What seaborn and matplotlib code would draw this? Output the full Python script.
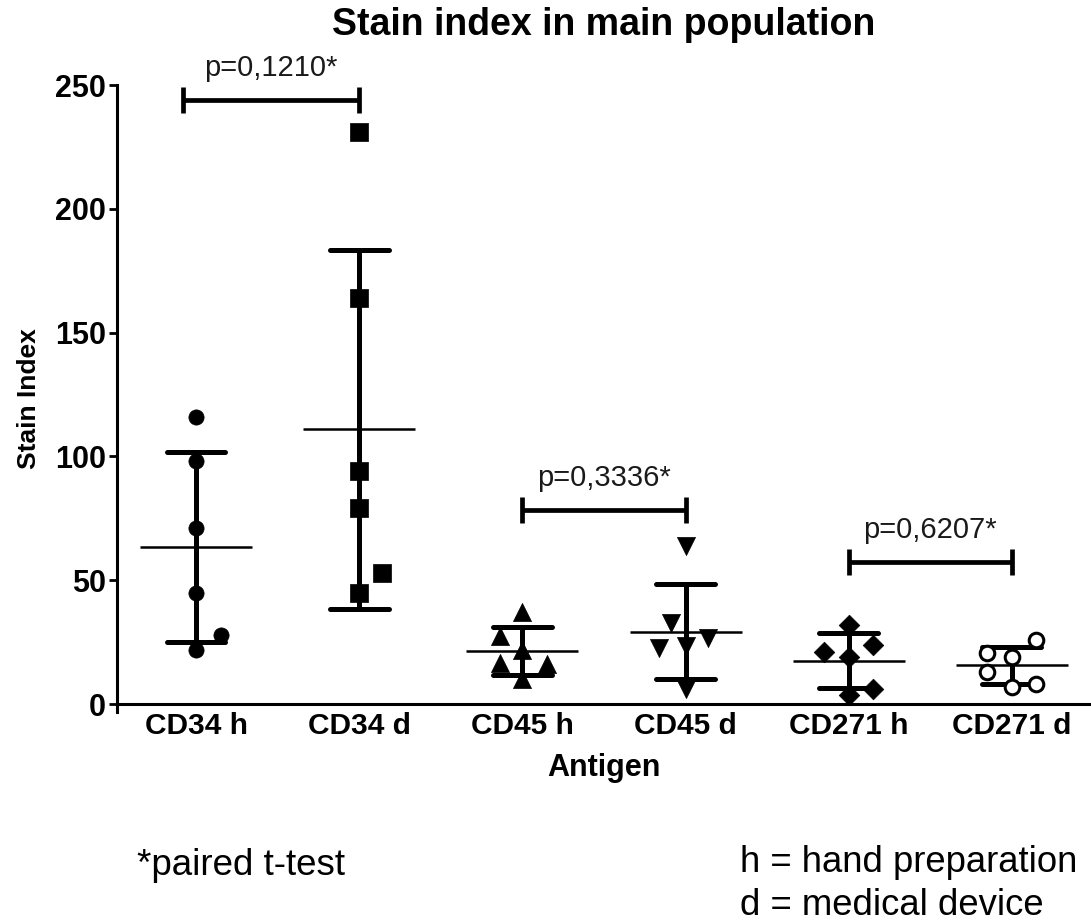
import matplotlib
matplotlib.use("Agg")
import matplotlib.pyplot as plt
import numpy as np
import pandas as pd
import seaborn as sns

# Stain index per antigen and preparation method (6 donors each)
antigens = ["CD34 h", "CD34 d", "CD45 h", "CD45 d", "CD271 h", "CD271 d"]
cd34_h = [116, 98, 71, 45, 28, 22]
cd34_d = [231, 164, 94, 79, 53, 45]
cd45_h = [37, 27.5, 22, 16.5, 16, 10]
cd45_d = [64, 32.6, 22.5, 23.5, 26.5, 6]
cd271_h = [32, 21, 24, 19, 6, 3.5]
cd271_d = [26, 20.5, 19, 13, 7, 8]
values = [cd34_h, cd34_d, cd45_h, cd45_d, cd271_h, cd271_d]

# paired comparisons (h vs d) and their p-values
pairs = [("CD34 h", "CD34 d"), ("CD45 h", "CD45 d"), ("CD271 h", "CD271 d")]
p_labels = ["p=0,1210*", "p=0,3336*", "p=0,6207*"]
y_ticks = [0, 50, 100, 150, 200, 250]

# horizontal spread of overlapping points inside each column
spread = [
    [0, 0, 0, 0, 0.15, 0],
    [0, 0, 0, 0, 0.14, 0],
    [0, -0.14, 0, -0.14, 0.15, 0],
    [0, -0.09, -0.16, 0, 0.14, 0],
    [0, -0.15, 0.15, 0, 0.15, 0],
    [0.15, -0.15, 0, -0.15, 0, 0.15],
]

rows = []
for i, (name, vals) in enumerate(zip(antigens, values)):
    for v, dx in zip(vals, spread[i]):
        rows.append({"Antigen": name, "Stain Index": v, "pos": i + dx})
df = pd.DataFrame(rows)

sns.set_theme(style="white")
plt.rcParams["font.family"] = ["Liberation Sans", "DejaVu Sans"]
plt.rcParams["text.color"] = "black"
plt.rcParams["axes.labelcolor"] = "black"
plt.rcParams["xtick.color"] = "black"
plt.rcParams["ytick.color"] = "black"

fig = plt.figure(figsize=(10.91, 9.22), dpi=100)
ax = fig.add_axes([0.1072, 0.2278, 0.892, 0.680])

# mean line with SD whiskers
sns.pointplot(
    data=df, x="Antigen", y="Stain Index", order=antigens,
    errorbar="sd", capsize=0.36, color="black",
    markers="_", linestyles="none", markersize=81, markeredgewidth=1.8,
    err_kws={"linewidth": 3.6}, ax=ax,
)

# individual donors
markers = {"CD34 h": "o", "CD34 d": "s", "CD45 h": "^", "CD45 d": "v",
           "CD271 h": "D", "CD271 d": "o"}
fills = {"CD34 h": "black", "CD34 d": "black", "CD45 h": "black",
         "CD45 d": "black", "CD271 h": "black", "CD271 d": "white"}
sizes = {"CD34 h": 120, "CD34 d": 150, "CD45 h": 170, "CD45 d": 170,
         "CD271 h": 110, "CD271 d": 110}
for name in antigens:
    sub = df[df["Antigen"] == name]
    sns.scatterplot(
        data=sub, x="pos", y="Stain Index", marker=markers[name],
        color=fills[name], edgecolor="black",
        linewidth=2.2 if name == "CD271 d" else 0.5,
        s=sizes[name], legend=False, zorder=4, ax=ax,
    )

# significance brackets
bracket_y = [244, 78.5, 57.5]
bracket_start = [-0.08, 0, 0]
for (a, b), lab, yb, x0 in zip(pairs, p_labels, bracket_y, bracket_start):
    xa = antigens.index(a) + x0
    xb = antigens.index(b)
    ax.plot([xa, xb], [yb, yb], color="black", lw=3.4, clip_on=False,
            solid_capstyle="butt", zorder=5)
    for xx in (xa, xb):
        ax.plot([xx, xx], [yb - 5.2, yb + 5.2], color="black", lw=3.4,
                clip_on=False, solid_capstyle="butt", zorder=5)
    ax.annotate(lab, xy=((xa + xb) / 2, yb), xytext=(0, 23),
                textcoords="offset points", ha="center", va="center",
                fontsize=21, color="#1a1a1a", annotation_clip=False)

ax.set_xlim(-0.485, 5.48)
ax.set_ylim(-3.2, 250)
ax.spines["bottom"].set_position(("data", 0))
ax.set_xticks(range(len(antigens)))
ax.set_xticklabels(antigens)
ax.set_yticks(y_ticks)
ax.set_yticklabels([str(t) for t in y_ticks])

for side in ("top", "right"):
    ax.spines[side].set_visible(False)
for side in ("left", "bottom"):
    ax.spines[side].set_linewidth(2.2)
    ax.spines[side].set_color("black")

ax.tick_params(axis="y", which="major", direction="out", length=6,
               width=2, pad=2, labelsize=22, left=True)
ax.tick_params(axis="x", length=0, pad=6, labelsize=21.5)
for lbl in ax.get_xticklabels() + ax.get_yticklabels():
    lbl.set_fontweight("bold")

ax.set_xlabel("Antigen", fontsize=22, fontweight="bold", labelpad=9)
ax.set_ylabel("Stain Index", fontsize=19, fontweight="bold", labelpad=10)
ax.set_title("Stain index in main population", fontsize=27,
             fontweight="bold", pad=36)

fig.text(137 / 1091, 1 - 865 / 922, "*paired t-test", fontsize=26.5,
         ha="left", va="center")
fig.text(740 / 1091, 1 - 862 / 922, "h = hand preparation", fontsize=26.3,
         ha="left", va="center")
fig.text(740 / 1091, 1 - 905 / 922, "d = medical device", fontsize=26.3,
         ha="left", va="center")

fig.savefig("out.png", dpi=100)
